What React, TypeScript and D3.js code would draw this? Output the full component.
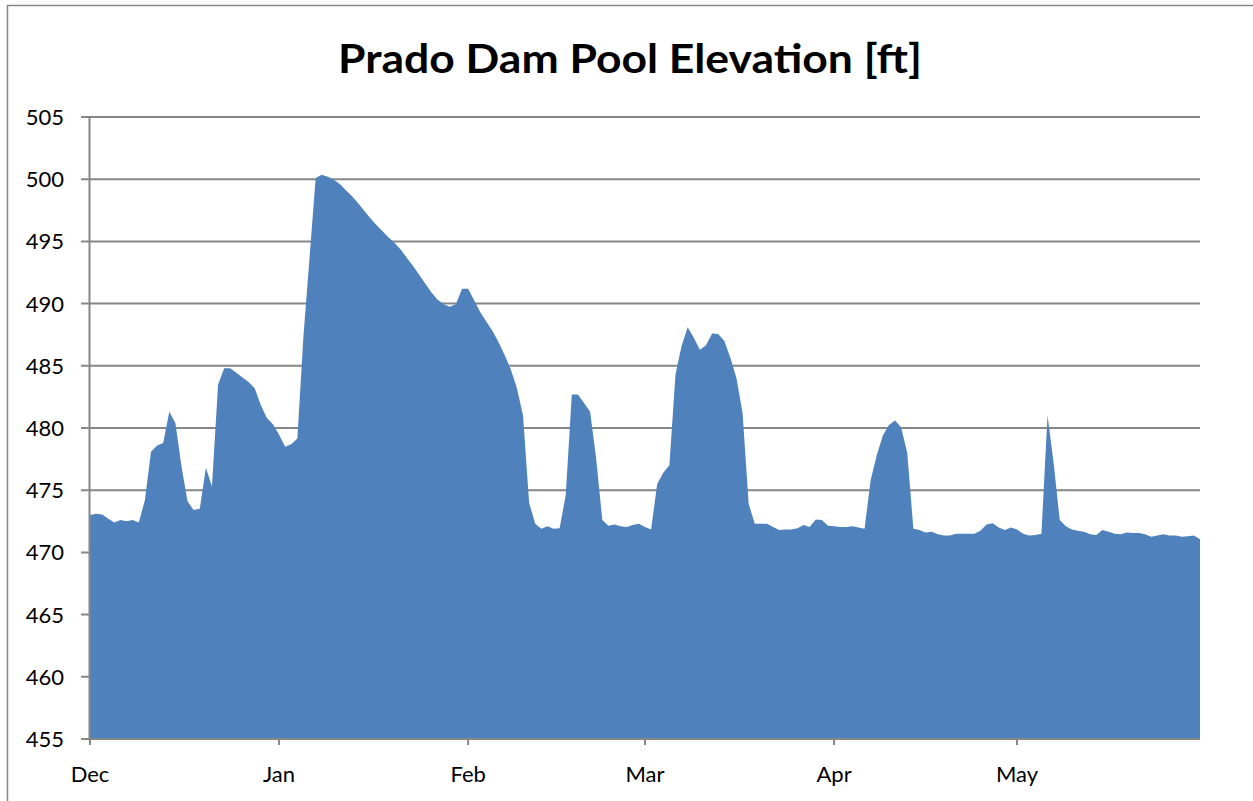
import React from "react";
import * as d3 from "d3";

const TITLE = "Prado Dam Pool Elevation [ft]";
const START_DATE = new Date(2003, 11, 1);
const END_DATE = new Date(2004, 4, 31);
const MONTH_LABELS = ["Dec", "Jan", "Feb", "Mar", "Apr", "May"];
const Y_TICKS = [455, 460, 465, 470, 475, 480, 485, 490, 495, 500, 505];

// Daily pool elevation [ft], Dec 1 .. May 31
const DEC_VALUES = [
  473.0, 473.1, 473.05, 472.7, 472.4, 472.6, 472.5, 472.6, 472.4, 474.2,
  478.1, 478.6, 478.8, 481.3, 480.4, 476.9, 474.1, 473.4, 473.5, 476.8,
  475.3, 483.5, 484.8, 484.8, 484.45, 484.05, 483.7, 483.2, 481.85, 480.8,
  480.3,
];
const JAN_VALUES = [
  479.45, 478.5, 478.7, 479.15, 487.4, 493.7, 500.1, 500.35, 500.2, 499.95,
  499.6, 499.1, 498.6, 498.05, 497.45, 496.85, 496.3, 495.8, 495.3, 494.85,
  494.3, 493.65, 493.0, 492.3, 491.6, 490.9, 490.3, 489.95, 489.75, 489.95,
  491.2,
];
const FEB_VALUES = [
  491.2, 490.25, 489.3, 488.55, 487.8, 486.9, 485.85, 484.7, 483.2, 481.0,
  474.0, 472.3, 471.9, 472.1, 471.9, 471.95, 474.6, 482.7, 482.7, 482.0,
  481.3, 477.5, 472.6, 472.15, 472.25, 472.1, 472.05, 472.2, 472.3,
];
const MAR_VALUES = [
  472.05, 471.85, 475.5, 476.4, 477.0, 484.3, 486.6, 488.1, 487.25, 486.3,
  486.65, 487.6, 487.55, 487.0, 485.65, 484.0, 481.2, 473.9, 472.3, 472.3,
  472.3, 472.05, 471.8, 471.85, 471.85, 471.95, 472.2, 472.05, 472.65, 472.6,
  472.15,
];
const APR_VALUES = [
  472.1, 472.05, 472.05, 472.1, 472.0, 471.9, 475.8, 477.8, 479.4, 480.25,
  480.6, 480.05, 478.0, 471.9, 471.8, 471.6, 471.65, 471.45, 471.35, 471.35,
  471.5, 471.5, 471.5, 471.5, 471.75, 472.25, 472.35, 472.0, 471.8, 472.0,
];
const MAY_VALUES = [
  471.85, 471.5, 471.35, 471.4, 471.5, 481.0, 477.2, 472.6, 472.1, 471.85,
  471.75, 471.65, 471.45, 471.4, 471.8, 471.65, 471.5, 471.45, 471.6, 471.55,
  471.55, 471.45, 471.25, 471.35, 471.45, 471.35, 471.35, 471.25, 471.3, 471.35,
  471.05,
];

const ELEVATION = [
  ...DEC_VALUES,
  ...JAN_VALUES,
  ...FEB_VALUES,
  ...MAR_VALUES,
  ...APR_VALUES,
  ...MAY_VALUES,
];

const W = 1253;
const H = 801;
const M = { left: 90, right: 1200, top: 117, bottom: 739 };
const FONT = "Lato, 'Open Sans', sans-serif";
const GRID = "#868686";
const FILL = "#4F81BD";

export default function App() {
  const x = d3.scaleTime().domain([START_DATE, END_DATE]).range([M.left, M.right]);
  const y = d3.scaleLinear().domain([455, 505]).range([M.bottom, M.top]);
  const data = ELEVATION.map((v, i) => ({ date: d3.timeDay.offset(START_DATE, i), v }));
  const area = d3
    .area<{ date: Date; v: number }>()
    .x((d) => x(d.date))
    .y0(y(455))
    .y1((d) => y(d.v));
  const months = d3.timeMonth.range(START_DATE, END_DATE);

  return (
    <svg
      width={W}
      height={H}
      style={{ position: "absolute", left: 0, top: 0, background: "#fff" }}
    >
      <rect x={0} y={0} width={W} height={H} fill="#fff" />
      <path d={`M7.5,${H + 5} V5.5 H${W + 5}`} fill="none" stroke={GRID} strokeWidth={1.5} />
      <text
        x={630}
        y={73}
        textAnchor="middle"
        fontFamily={FONT}
        fontWeight={700}
        fontSize={40}
        textLength={584}
        lengthAdjust="spacingAndGlyphs"
        fill="#000"
      >
        {TITLE}
      </text>
      {Y_TICKS.map((t) => (
        <g key={t}>
          <line x1={81} x2={M.right} y1={y(t)} y2={y(t)} stroke={GRID} strokeWidth={2} />
          <text
            x={64}
            y={y(t)}
            dy="0.36em"
            textAnchor="end"
            fontFamily={FONT}
            fontSize={22}
            fill="#000"
          >
            {t}
          </text>
        </g>
      ))}
      <path d={area(data) || ""} fill={FILL} />
      <line x1={M.left - 0.5} x2={M.left - 0.5} y1={M.top} y2={M.bottom} stroke={GRID} strokeWidth={2} />
      <line x1={M.left - 0.5} x2={M.right} y1={M.bottom} y2={M.bottom} stroke={GRID} strokeWidth={2} />
      {months.map((m, i) => (
        <g key={i}>
          <line x1={x(m)} x2={x(m)} y1={M.bottom} y2={M.bottom + 6} stroke={GRID} strokeWidth={2} />
          <text
            x={x(m)}
            y={782}
            textAnchor="middle"
            fontFamily={FONT}
            fontSize={22}
            fill="#000"
          >
            {MONTH_LABELS[i]}
          </text>
        </g>
      ))}
    </svg>
  );
}
